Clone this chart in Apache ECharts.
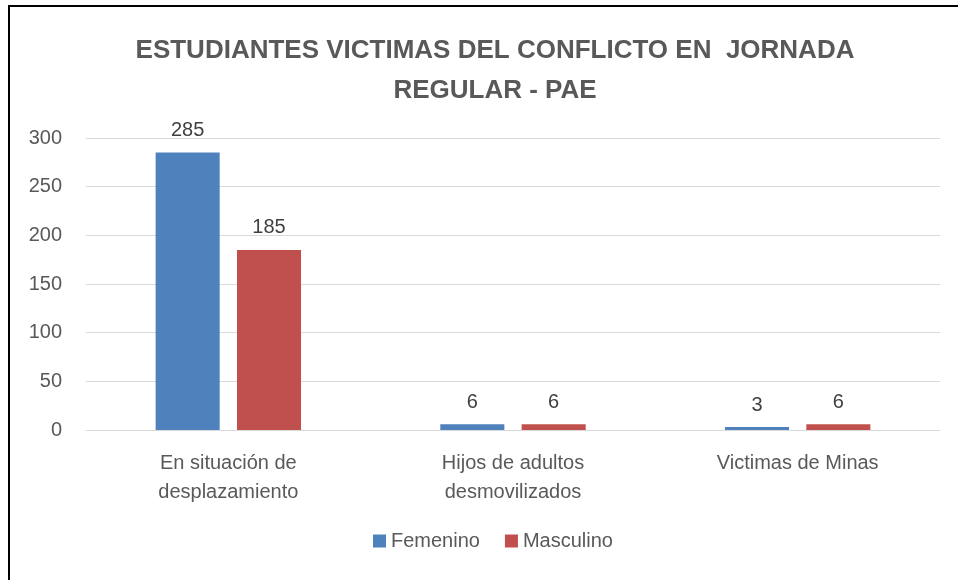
<!DOCTYPE html>
<html>
<head>
<meta charset="utf-8">
<script src="https://cdn.jsdelivr.net/npm/echarts@6/dist/echarts.min.js"></script>
<style>
    html, body { margin: 0; padding: 0; background: #fff; }
    #frame {
        position: absolute; left: 8px; top: 5px; width: 950px; height: 575px;
        border-left: 2px solid #000; border-top: 2px solid #000;
        box-sizing: border-box;
    }
    #chart { position: absolute; left: 0; top: 0; width: 958px; height: 580px; }
</style>
</head>
<body>
<div id="frame"></div>
<div id="chart"></div>
<script>
var categories = ['En situación de\ndesplazamiento', 'Hijos de adultos\ndesmovilizados', 'Victimas de Minas'];
var femenino = [285, 6, 3];
var masculino = [185, 6, 6];
var yTicks = { min: 0, max: 300, interval: 50 };

var font = '"Liberation Sans", sans-serif';

document.addEventListener("DOMContentLoaded", function() {

    var chart = echarts.init(document.getElementById('chart'), null, { renderer: 'canvas' });

    var label = {
        show: true,
        position: 'top',
        distance: 12,
        color: '#404040',
        fontSize: 20,
        fontFamily: font
    };

    var option = {
        animation: false,
        title: {
            text: 'ESTUDIANTES VICTIMAS DEL CONFLICTO EN  JORNADA\nREGULAR - PAE',
            left: 490,
            textAlign: 'center',
            top: 26,
            textStyle: {
                color: '#595959',
                fontSize: 26,
                fontWeight: 'bold',
                fontFamily: font,
                lineHeight: 40
            }
        },
        legend: {
            bottom: 24,
            left: 368,
            itemWidth: 13,
            itemHeight: 13,
            itemGap: 25,
            icon: 'rect',
            textStyle: { color: '#595959', fontSize: 20, fontFamily: font },
            data: ['Femenino', 'Masculino']
        },
        grid: {
            left: 86,
            right: 18,
            top: 138,
            bottom: 150
        },
        xAxis: {
            type: 'category',
            data: categories,
            axisTick: { show: false },
            axisLine: { lineStyle: { color: '#d9d9d9', width: 1 } },
            axisLabel: {
                color: '#595959',
                fontSize: 20,
                fontFamily: font,
                lineHeight: 29,
                margin: 19
            }
        },
        yAxis: {
            type: 'value',
            min: yTicks.min,
            max: yTicks.max,
            interval: yTicks.interval,
            axisLine: { show: false },
            axisTick: { show: false },
            axisLabel: {
                color: '#595959',
                fontSize: 20,
                fontFamily: font,
                margin: 24
            },
            splitLine: { lineStyle: { color: '#d9d9d9', width: 1 } }
        },
        series: [
            {
                name: 'Femenino',
                type: 'bar',
                data: femenino,
                barWidth: '22.5%',
                barGap: '27%',
                itemStyle: { color: '#4f81bd' },
                label: label
            },
            {
                name: 'Masculino',
                type: 'bar',
                data: masculino,
                barWidth: '22.5%',
                itemStyle: { color: '#c0504d' },
                label: label
            }
        ]
    };

    chart.setOption(option);
});
</script>
</body>
</html>
